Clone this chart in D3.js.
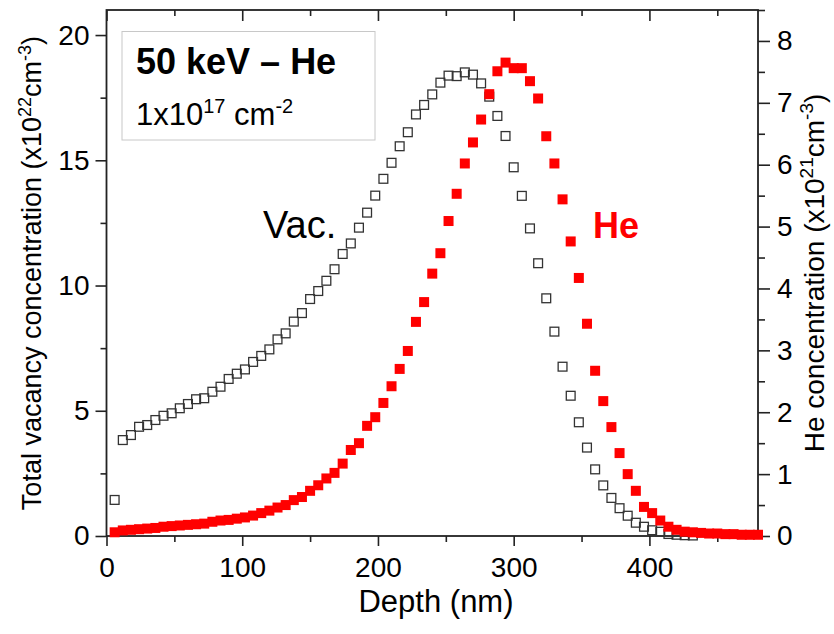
<!DOCTYPE html>
<html>
<head>
<meta charset="utf-8">
<script src="https://cdn.jsdelivr.net/npm/d3@7"></script>
<style>
  body { margin: 0; background: #fff; }
  text { font-family: Arial, "Liberation Sans", Helvetica, sans-serif; }
</style>
</head>
<body>
<svg width="834" height="634"></svg>
<script>
// depth bins (nm)
const depth = [6, 12, 18, 24, 30, 36, 42, 48, 54, 60, 66, 72, 78, 84, 90, 96, 102, 108, 114, 120,
  126, 132, 138, 144, 150, 156, 162, 168, 174, 180, 186, 192, 198, 204, 210, 216, 222, 228, 234, 240,
  246, 252, 258, 264, 270, 276, 282, 288, 294, 300, 306, 312, 318, 324, 330, 336, 342, 348, 354, 360,
  366, 372, 378, 384, 390, 396, 402, 408, 414, 420, 426, 432, 438, 444, 450, 456, 462, 468, 474, 480];

// total vacancy concentration (x10^22 cm^-3)
const vacancy = [1.44, 3.83, 4.03, 4.36, 4.43, 4.63, 4.80, 4.90, 5.10, 5.27, 5.46, 5.50, 5.76, 5.96, 6.27,
  6.48, 6.65, 6.95, 7.19, 7.45, 7.85, 8.09, 8.56, 8.90, 9.46, 9.78, 10.19, 10.65, 11.26, 11.68, 12.31,
  12.91, 13.59, 14.26, 14.90, 15.56, 16.12, 16.83, 17.21, 17.63, 18.10, 18.38, 18.36, 18.51, 18.42, 18.07,
  17.54, 16.77, 15.97, 14.72, 13.58, 12.28, 10.89, 9.49, 8.16, 6.76, 5.60, 4.54, 3.53, 2.66, 2.02, 1.52,
  1.11, 0.81, 0.53, 0.37, 0.23, 0.17, 0.08, 0.05, 0.03, 0.02];

// He concentration (x10^21 cm^-3)
const helium = [0.06, 0.09, 0.10, 0.11, 0.12, 0.13, 0.15, 0.16, 0.17, 0.18, 0.19, 0.20, 0.23, 0.25, 0.26,
  0.28, 0.30, 0.33, 0.37, 0.41, 0.46, 0.50, 0.58, 0.63, 0.73, 0.82, 0.93, 1.02, 1.17, 1.39, 1.50, 1.78,
  1.92, 2.15, 2.42, 2.70, 2.99, 3.46, 3.78, 4.24, 4.57, 5.09, 5.53, 6.02, 6.36, 6.73, 7.14, 7.51, 7.65,
  7.56, 7.56, 7.35, 7.07, 6.46, 6.02, 5.44, 4.76, 4.17, 3.43, 2.67, 2.18, 1.76, 1.34, 1.00, 0.73, 0.47,
  0.37, 0.25, 0.15, 0.10, 0.07, 0.06, 0.05, 0.04, 0.04, 0.03, 0.03, 0.02, 0.02, 0.02];

const xTicks = [0, 100, 200, 300, 400];
const xMinor = [50, 150, 250, 350, 450];
const leftTicks = [0, 5, 10, 15, 20];
const leftMinor = [2.5, 7.5, 12.5, 17.5];
const rightTicks = [0, 1, 2, 3, 4, 5, 6, 7, 8];
const rightMinor = [0.5, 1.5, 2.5, 3.5, 4.5, 5.5, 6.5, 7.5, 8.5];

const svg = d3.select("svg");
const L = 106.5, R = 758, T = 10, B = 536;

const x = d3.scaleLinear().domain([0, 480]).range([L, R]);
const yL = d3.scaleLinear().domain([0, 21]).range([B, T]);
const yR = d3.scaleLinear().domain([0, 8.5]).range([B, T]);

// little helper for axis styling
function styleAxis(g) {
  g.select(".domain").remove();
  g.selectAll("line").attr("stroke", "#222").attr("stroke-width", 1.6);
  g.selectAll("text").attr("font-size", 28).attr("fill", "#000");
}

// bottom
svg.append("g").attr("transform", `translate(0,${B})`)
  .call(d3.axisBottom(x).tickValues(xTicks).tickSize(10).tickPadding(11).tickFormat(d3.format("d")))
  .call(styleAxis);
svg.append("g").attr("transform", `translate(0,${B})`)
  .call(d3.axisBottom(x).tickValues(xMinor).tickSize(6).tickFormat(""))
  .call(styleAxis);
// top (inward ticks)
svg.append("g").attr("transform", `translate(0,${T})`)
  .call(d3.axisBottom(x).tickValues(xTicks).tickSize(11).tickFormat(""))
  .call(styleAxis);
svg.append("g").attr("transform", `translate(0,${T})`)
  .call(d3.axisBottom(x).tickValues(xMinor).tickSize(6).tickFormat(""))
  .call(styleAxis);
// left
svg.append("g").attr("transform", `translate(${L},0)`)
  .call(d3.axisLeft(yL).tickValues(leftTicks).tickSize(11).tickPadding(6))
  .call(styleAxis);
svg.append("g").attr("transform", `translate(${L},0)`)
  .call(d3.axisLeft(yL).tickValues(leftMinor).tickSize(6).tickFormat(""))
  .call(styleAxis);
// right
svg.append("g").attr("transform", `translate(${R},0)`)
  .call(d3.axisRight(yR).tickValues(rightTicks).tickSize(12).tickPadding(7))
  .call(styleAxis);
svg.append("g").attr("transform", `translate(${R},0)`)
  .call(d3.axisRight(yR).tickValues(rightMinor).tickSize(7).tickFormat(""))
  .call(styleAxis);

// frame
svg.append("rect").attr("x", L).attr("y", T).attr("width", R - L).attr("height", B - T)
  .attr("fill", "none").attr("stroke", "#222").attr("stroke-width", 1.8);

// legend box
svg.append("rect").attr("x", 122).attr("y", 31.5).attr("width", 253).attr("height", 108.5)
  .attr("fill", "#fff").attr("stroke", "#c8c8c8").attr("stroke-width", 1);
svg.append("text").attr("x", 136).attr("y", 74).attr("font-size", 36).attr("font-weight", "bold")
  .text("50 keV \u2013 He");
const dose = svg.append("text").attr("x", 136).attr("y", 125).attr("font-size", 31);
dose.append("tspan").text("1x10");
dose.append("tspan").attr("font-size", 20).attr("dy", -12).text("17");
dose.append("tspan").attr("dy", 12).text(" cm");
dose.append("tspan").attr("font-size", 20).attr("dy", -12).text("-2");

// data
const sz = 10;
svg.append("g").selectAll("rect").data(vacancy).join("rect")
  .attr("x", (d, i) => x(depth[i]) - sz / 2 + 0.6)
  .attr("y", d => yL(d) - sz / 2 + 0.6)
  .attr("width", sz - 1.2).attr("height", sz - 1.2)
  .attr("fill", "none").attr("stroke", "#333").attr("stroke-width", 1.3);

svg.append("g").selectAll("rect").data(helium).join("rect")
  .attr("x", (d, i) => x(depth[i]) - sz / 2)
  .attr("y", d => yR(d) - sz / 2)
  .attr("width", sz).attr("height", sz)
  .attr("fill", "#ff0000");

// series labels
svg.append("text").attr("x", 263).attr("y", 238).attr("font-size", 38).text("Vac.");
svg.append("text").attr("x", 593).attr("y", 238).attr("font-size", 36).attr("font-weight", "bold")
  .attr("fill", "#ff0000").text("He");

// axis titles
svg.append("text").attr("x", 436).attr("y", 612).attr("text-anchor", "middle")
  .attr("font-size", 31).text("Depth (nm)");

const lt = svg.append("text").attr("transform", `translate(41,${(T + B) / 2}) rotate(-90)`)
  .attr("text-anchor", "middle").attr("font-size", 27);
lt.append("tspan").text("Total vacancy concentration (x10");
lt.append("tspan").attr("font-size", 18).attr("dy", -10).text("22");
lt.append("tspan").attr("dy", 10).text("cm");
lt.append("tspan").attr("font-size", 18).attr("dy", -10).text("-3");
lt.append("tspan").attr("dy", 10).text(")");

const rt = svg.append("text").attr("transform", `translate(824,${(T + B) / 2}) rotate(-90)`)
  .attr("text-anchor", "middle").attr("font-size", 28);
rt.append("tspan").text("He concentration (x10");
rt.append("tspan").attr("font-size", 19).attr("dy", -11).text("21");
rt.append("tspan").attr("dy", 11).text("cm");
rt.append("tspan").attr("font-size", 19).attr("dy", -11).text("-3");
rt.append("tspan").attr("dy", 11).text(")");
</script>
</body>
</html>
